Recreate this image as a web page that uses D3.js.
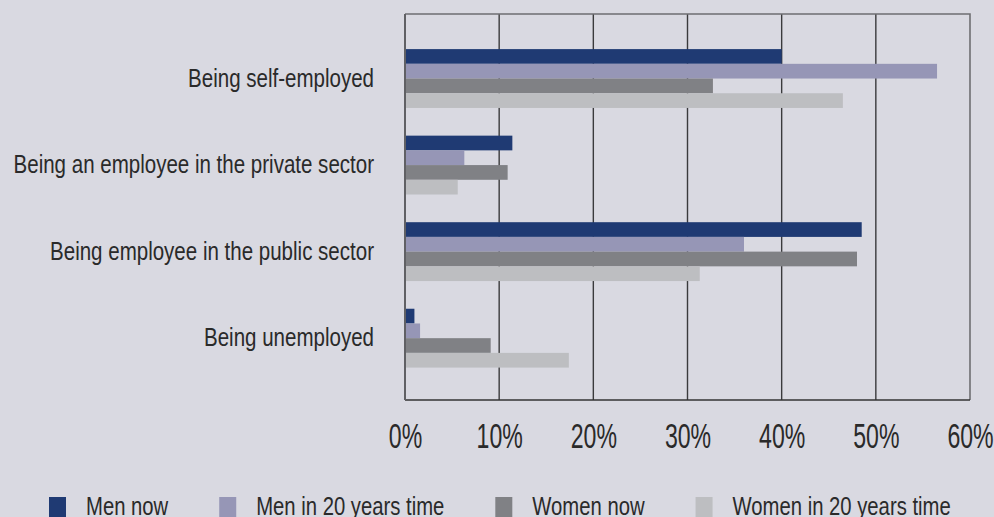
<!DOCTYPE html>
<html lang="en">
  <head>
    <meta charset="UTF-8" />
    <title>Employment preferences</title>
    <script src="https://cdn.jsdelivr.net/npm/d3@7/dist/d3.min.js"></script>
    <style>
      body {
        margin: 0;
        padding: 0;
        background: #d9d9e1;
      }
      svg {
        display: block;
      }
      text {
        font-family: 'Liberation Sans', Arial, sans-serif;
      }
    </style>
  </head>

  <body>
    <svg width="994" height="517"></svg>

    <script>
      var categories = [
        'Being self-employed',
        'Being an employee in the private sector',
        'Being employee in the public sector',
        'Being unemployed',
      ]
      var series = ['Men now', 'Men in 20 years time', 'Women now', 'Women in 20 years time']
      var menNow = [40.0, 11.4, 48.5, 1.0]
      var menLater = [56.5, 6.3, 36.0, 1.6]
      var womenNow = [32.7, 10.9, 48.0, 9.1]
      var womenLater = [46.5, 5.6, 31.3, 17.4]
      var xTicks = [0, 10, 20, 30, 40, 50, 60]
      var colors = ['#1f3a73', '#9696b6', '#808185', '#bdbec1']

      var values = [menNow, menLater, womenNow, womenLater]
      var config = {
        margin: { top: 14, right: 24, bottom: 117, left: 405 },
      }
      // the original type is a narrow grotesque, so squeeze Liberation Sans
      var squeeze = 0.79

      var svg = d3.select('svg')
      var width = +svg.attr('width')
      var height = +svg.attr('height')
      var bottom = height - config.margin.top - config.margin.bottom
      var right = width - config.margin.left - config.margin.right
      var g = svg
        .append('g')
        .attr('transform', `translate(${config.margin.left}, ${config.margin.top})`)

      var xScale = d3.scaleLinear().domain([0, 60]).range([0, right])
      var yScale = d3
        .scaleBand()
        .domain(categories)
        .range([0, bottom])
        .paddingInner(0.32)
        .paddingOuter(0.39)
        .align(0.52)
      var sub = d3.scaleBand().domain(series).range([0, yScale.bandwidth()])

      // grid lines behind the bars
      g.append('g')
        .selectAll('line')
        .data(xTicks.slice(1, -1))
        .enter()
        .append('line')
        .attr('x1', (d) => xScale(d))
        .attr('x2', (d) => xScale(d))
        .attr('y1', 0)
        .attr('y2', bottom)
        .attr('stroke', '#3a3a3c')
        .attr('stroke-width', 1.4)

      // frame top and right
      g.append('path')
        .attr('d', `M0,0H${xScale(60)}V${bottom}`)
        .attr('fill', 'none')
        .attr('stroke', '#6e6e72')
        .attr('stroke-width', 1.6)

      var groups = g
        .selectAll('.cat')
        .data(categories)
        .enter()
        .append('g')
        .attr('class', 'cat')
        .attr('transform', (d) => `translate(0, ${yScale(d)})`)

      groups
        .selectAll('rect')
        .data((d, i) => series.map((s, j) => ({ s: s, v: values[j][i], c: colors[j] })))
        .enter()
        .append('rect')
        .attr('x', 0)
        .attr('y', (d) => sub(d.s))
        .attr('width', (d) => xScale(d.v))
        .attr('height', sub.bandwidth())
        .attr('fill', (d) => d.c)

      // axes
      var xAxis = d3
        .axisBottom(xScale)
        .tickValues(xTicks)
        .tickFormat((d) => d + '%')
        .tickSize(0)
        .tickPadding(23)
      var gx = g.append('g').attr('transform', `translate(0, ${bottom})`).call(xAxis)
      gx.select('.domain').remove()
      gx.attr('font-family', null).attr('font-size', null)
      gx.selectAll('text')
        .attr('font-size', 35)
        .attr('fill', '#2a2a2a')
        .attr('transform', 'scale(0.66,1)')

      var yAxis = d3.axisLeft(yScale).tickSize(0).tickPadding(31)
      var gy = g.append('g').call(yAxis)
      gy.select('.domain').remove()
      gy.attr('font-family', null).attr('font-size', null)
      gy.selectAll('text')
        .attr('font-size', 26)
        .attr('fill', '#2a2a2a')
        .attr('x', -31 / squeeze)
        .attr('transform', `scale(${squeeze},1)`)

      g.append('line')
        .attr('x1', 0)
        .attr('x2', xScale(60))
        .attr('y1', bottom)
        .attr('y2', bottom)
        .attr('stroke', '#333')
        .attr('stroke-width', 1.6)
      g.append('line')
        .attr('x1', 0)
        .attr('x2', 0)
        .attr('y1', 0)
        .attr('y2', bottom)
        .attr('stroke', '#606064')
        .attr('stroke-width', 2)

      // legend (cut by the bottom edge, as in the original)
      var legend = svg.append('g').attr('transform', 'translate(49, 497)')
      var lx = 0
      var legendSqueeze = 0.78
      series.forEach(function (s, i) {
        var item = legend.append('g').attr('transform', `translate(${lx}, 0)`)
        item.append('rect').attr('width', 17).attr('height', 20).attr('fill', colors[i])
        var t = item
          .append('g')
          .attr('transform', `translate(37, 18.2) scale(${legendSqueeze},1)`)
          .append('text')
          .attr('font-size', 26)
          .attr('fill', '#2a2a2a')
          .text(s)
        lx += 37 + t.node().getComputedTextLength() * legendSqueeze + 51
      })
    </script>
  </body>
</html>
